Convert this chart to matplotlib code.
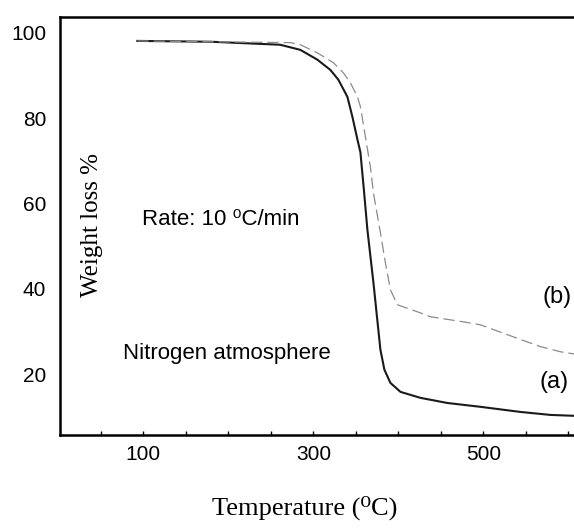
import numpy as np
import matplotlib
matplotlib.use("Agg")
import matplotlib.pyplot as plt
from matplotlib.ticker import MultipleLocator

# curve (a), solid
temp_a = [93, 180, 261, 284.7, 304.7, 320, 329.4, 340, 345.9, 351.8, 355.3, 359.4, 363.5, 370.6,
          378.8, 383.5, 390.6, 402.4, 425.9, 457.5, 496.5, 543.5, 579, 606, 640]
wt_a = [98.1, 97.9, 97.2, 96.0, 93.7, 91.3, 89.0, 85.0, 80.3, 75.0, 72.0, 63.2, 53.9, 41.5,
        25.8, 21.1, 18.0, 15.9, 14.5, 13.3, 12.4, 11.2, 10.5, 10.3, 10.1]

# curve (b), dashed
temp_b = [93, 180, 272.9, 284.7, 304.7, 323.5, 335.3, 343.5, 351.8, 355.3, 361.2, 367.1, 370.6, 378.8,
          384.7, 390.6, 398.8, 425.9, 437.5, 476.5, 496.5, 535, 567, 590.5, 606, 640]
wt_b = [98.1, 97.9, 97.7, 97.2, 95.3, 93.0, 90.6, 88.3, 85.0, 82.7, 75.6, 68.5, 62.5, 53.2,
        46.1, 39.8, 36.3, 34.4, 33.5, 32.3, 31.6, 28.8, 26.5, 25.3, 24.8, 24.3]

fig = plt.figure(figsize=(5.74, 5.31), dpi=100)
ax = fig.add_axes([60 / 574, 1 - 435 / 531, 551 / 574, 418 / 531])

ax.plot(temp_a, wt_a, color="#1a1a1a", lw=1.5)
ax.plot(temp_b, wt_b, color="#8c8c8c", lw=0.9, dashes=(9, 4))

ax.set_xlim(2, 650)
ax.set_ylim(5.8, 103.7)

ax.set_xticks([100, 300, 500])
ax.xaxis.set_minor_locator(MultipleLocator(50))
ax.set_yticks([20, 40, 60, 80, 100])

sans = ["Liberation Sans", "DejaVu Sans"]
serif = ["Liberation Serif", "DejaVu Serif"]

ax.tick_params(axis="x", which="both", direction="in", length=3, width=1, pad=7, labelsize=15)
ax.tick_params(axis="y", length=0, pad=10, labelsize=15)
for lab in ax.get_xticklabels() + ax.get_yticklabels():
    lab.set_family(sans)

for s in ["left", "bottom", "top"]:
    ax.spines[s].set_linewidth(1.8)
ax.spines["right"].set_visible(False)

fig.text(305 / 574, 1 - 508 / 531, "Temperature (\u2070C)", fontsize=19, family=serif,
         ha="center", va="center")
fig.text(92 / 574, 1 - 225 / 531, "Weight loss %", fontsize=18, family=serif,
         rotation=90, ha="center", va="center")

ax.text(99, 56.2, "Rate: 10 \u2070C/min", fontsize=16, family=sans, va="center", ha="left")
ax.text(76.5, 25, "Nitrogen atmosphere", fontsize=16, family=sans, va="center", ha="left")
ax.text(570, 38.2, "(b)", fontsize=17, family=sans, va="center", ha="left")
ax.text(566, 18.3, "(a)", fontsize=17, family=sans, va="center", ha="left")

fig.savefig("out.png", dpi=100)
